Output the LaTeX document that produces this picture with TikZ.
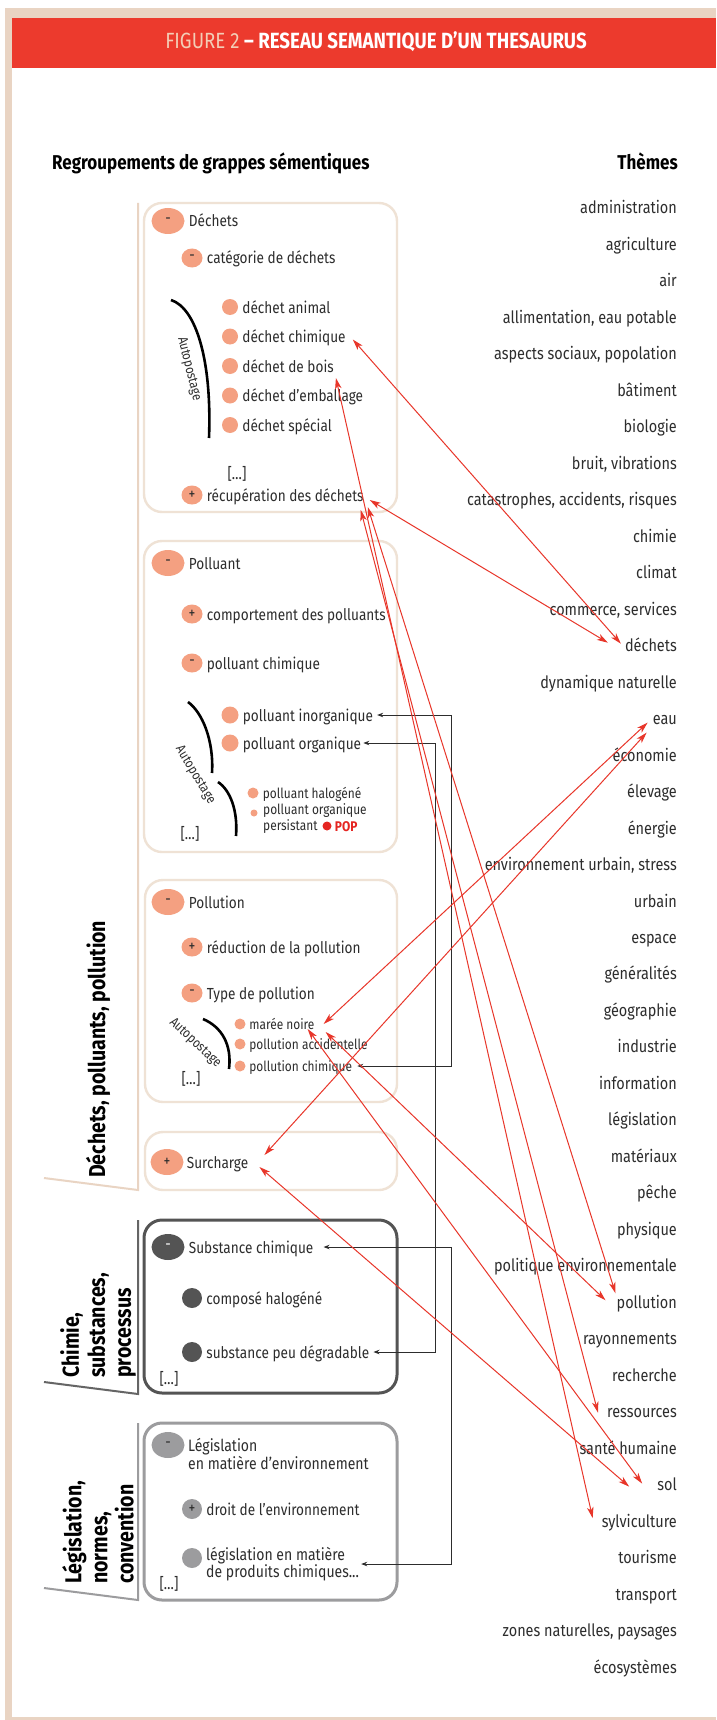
\documentclass[tikz,border=0pt]{standalone}
\usepackage{fontspec}
\setmainfont[FakeStretch=0.85]{Fira Sans}
\usepackage{tikz}
\usetikzlibrary{arrows.meta,positioning,shapes.geometric,calc}

\definecolor{salmon}{HTML}{F4A081}
\definecolor{framebeige}{HTML}{E9D4C3}
\definecolor{boxbeige}{HTML}{EFE2D5}
\definecolor{headred}{HTML}{EC3A2D}
\definecolor{figbeige}{HTML}{F3CDB6}
\definecolor{darkbul}{HTML}{545454}
\definecolor{graybul}{HTML}{9C9C9E}
\definecolor{arrred}{HTML}{E8362A}
\definecolor{popred}{HTML}{E52521}
\definecolor{txt}{HTML}{2D2D2D}

\tikzset{
  every node/.style={text=txt},
  ttl/.style={inner sep=0pt,text height=15pt,text depth=0pt,text=white,font=\bfseries\fontsize{22}{26}\selectfont},
  hdr/.style={inner sep=0pt,text height=14pt,text depth=0pt,text=black,font=\bfseries\fontsize{20}{24}\selectfont},
  theme/.style={anchor=east,inner sep=0pt,text height=12pt,text depth=0pt,font=\fontsize{17}{20}\selectfont},
  lbl/.style={inner sep=0pt,text height=12pt,text depth=0pt,font=\fontsize{16}{19}\selectfont},
  lbltwo/.style={inner sep=0pt,align=left,font=\fontsize{16.5}{15.5}\selectfont},
  smlbl/.style={inner sep=0pt,text height=10pt,text depth=0pt,font=\fontsize{14}{16}\selectfont},
  smtwo/.style={inner sep=0pt,align=left,font=\fontsize{14}{16}\selectfont},
  autolbl/.style={inner sep=0pt,font=\fontsize{13.5}{15}\selectfont},
  grplbl/.style={inner sep=0pt,rotate=90,text=black,font=\bfseries\fontsize{23}{26}\selectfont},
  bigbul/.style={ellipse,fill=salmon,minimum width=33pt,minimum height=26pt,inner sep=0pt,font=\fontsize{16}{16}\selectfont},
  smbul/.style={ellipse,fill=salmon,minimum width=21pt,minimum height=19pt,inner sep=0pt,font=\fontsize{16}{16}\selectfont},
  bdot/.style={circle,fill=salmon,minimum size=16pt,inner sep=0pt},
  tdot/.style={circle,fill=salmon,minimum size=11pt,inner sep=0pt},
  beigebox/.style={draw=boxbeige,line width=2.4pt,rounded corners=18pt},
  darkbox/.style={draw=darkbul,line width=3pt,rounded corners=18pt},
  graybox/.style={draw=graybul,line width=3pt,rounded corners=18pt},
  autoarc/.style={draw=black,line width=2.6pt},
  redarr/.style={draw=arrred,line width=1pt,>={Stealth[length=11pt,width=6.5pt,inset=3pt]},<->},
  blkarr/.style={draw=txt,line width=0.9pt,>={Stealth[length=6pt,width=4.5pt]},<->}
}

\begin{document}
\begin{tikzpicture}[x=1pt,y=-1pt]
\useasboundingbox (0,0) rectangle (716,1720);
% frame and title band
\fill[framebeige] (5,8) rectangle (716,1720);
\fill[white] (12,18) rectangle (716,1717);
\fill[headred] (12,18) rectangle (716,68);
\node[ttl] (ttl) at (376,41) {{\mdseries\color{figbeige}FIGURE 2} – RESEAU SEMANTIQUE D’UN THESAURUS};

\node[hdr,anchor=west] (hgrp) at (52,163) {Regroupements de grappes sémentiques};
\node[hdr,anchor=east] (hthm) at (678,163) {Thèmes};

% themes, right column
\foreach \k/\t [count=\i from 0] in {adm/administration, agri/agriculture, air/air,
    alim/{allimentation, eau potable}, asp/{aspects sociaux, popolation}, bat/bâtiment,
    bio/biologie, bruit/{bruit, vibrations}, cata/{catastrophes, accidents, risques\ },
    chim/chimie, clim/climat, comm/{commerce, services}, dech/déchets,
    dyn/dynamique naturelle, eau/eau, eco/économie, elev/élevage, ener/énergie,
    env/{environnement urbain, stress}, urb/urbain, esp/espace, gen/généralités,
    geo/géographie, ind/industrie, info/information, leg/législation, mat/matériaux,
    pech/pêche, phys/physique, polit/politique environnementale, poll/pollution,
    ray/rayonnements, rech/recherche, ress/ressources, sante/santé humaine, sol/sol,
    sylv/sylviculture, tour/tourisme, trans/transport, zon/{zones naturelles, paysages},
    ecos/écosystèmes}
  \node[theme] (t-\k) at (677,208+36.475*\i) {\t};

% group brackets and labels
\draw[draw=framebeige,line width=2pt] (44,1178) -- (138,1190) -- (138,203);
\draw[draw=darkbul!90,line width=2pt] (44,1382) -- (138,1394) -- (138,1220);
\draw[draw=graybul,line width=2pt] (44,1588) -- (138,1600) -- (138,1423);
\node[grplbl,anchor=base west] (g-dech) at (105,1178) {Déchets, polluants, pollution};
\node[grplbl,align=left,anchor=north west] (g-chim) at (60,1378) {Chimie,\\substances,\\processus};
\node[grplbl,align=left,anchor=north west] (g-leg) at (62,1584) {Législation,\\normes,\\convention};

% box 1: dechets
\draw[beigebox] (144,203) rectangle (397,512);
\node[bigbul] (dech-b) at (168,221) {-};
\node[lbl,right=4pt of dech-b] (dech) {Déchets};
\node[smbul] (cat-b) at (192,258) {-};
\node[lbl,right=4pt of cat-b] (cat) {catégorie de déchets};
\draw[autoarc] (171,300) .. controls (196,308) and (212,360) .. (209,438);
\node[autolbl,rotate=-76] (auto1) at (189,369) {Autopostage};
\foreach \k/\t [count=\i from 0] in {danim/déchet animal, dchim/déchet chimique,
    dbois/déchet de bois, demb/déchet d’emballage, dspec/déchet spécial} {
  \node[bdot] (\k-b) at (230,307+29.5*\i) {};
  \node[lbl,right=4pt of \k-b] (\k) {\t};
}
\node[lbl] (etc1) at (237,473) {[…]};
\node[smbul] (recup-b) at (192,495) {+};
\node[lbl,right=4pt of recup-b] (recup) {récupération des déchets};

% box 2: polluant
\draw[beigebox] (144,541) rectangle (397,852);
\node[bigbul] (pollu-b) at (168,563) {-};
\node[lbl,right=4pt of pollu-b] (pollu) {Polluant};
\node[smbul] (comp-b) at (192,614) {+};
\node[lbl,right=4pt of comp-b] (comp) {comportement des polluants};
\node[smbul] (pchq-b) at (192,663) {-};
\node[lbl,right=4pt of pchq-b] (pchq) {polluant chimique};
\draw[autoarc] (188,702) .. controls (202,712) and (214,740) .. (212,773);
\node[bdot,minimum size=17pt] (pinorg-b) at (230,715) {};
\node[lbl,right=4pt of pinorg-b] (pinorg) {polluant inorganique};
\node[bdot,minimum size=17pt] (porg-b) at (230,743) {};
\node[lbl,right=4pt of porg-b] (porg) {polluant organique};
\node[autolbl,rotate=-59] (auto2) at (195,775) {Autopostage};
\draw[autoarc] (218,782) .. controls (230,790) and (238,810) .. (236,836);
\node[tdot] (phal-b) at (253,793) {};
\node[smlbl,right=4pt of phal-b] (phal) {polluant halogéné};
\node[tdot,minimum size=7pt] (ppers-b) at (254,813) {};
\node[smtwo,anchor=west] (ppers) at (263,819) {polluant organique\\persistant};
\node[circle,fill=popred,minimum size=9pt,inner sep=0pt] (pop-b) at (327,826) {};
\node[smlbl,right=3pt of pop-b,text=popred,font=\bfseries\fontsize{14}{16}\selectfont] (pop) {POP};
\node[lbl] (etc2) at (190,833) {[…]};

% box 3: pollution
\draw[beigebox] (145,880) rectangle (397,1102);
\node[bigbul] (pollt-b) at (168,902) {-};
\node[lbl,right=4pt of pollt-b] (pollt) {Pollution};
\node[smbul] (redu-b) at (192,947) {+};
\node[lbl,right=4pt of redu-b] (redu) {réduction de la pollution};
\node[smbul] (type-b) at (192,993) {-};
\node[lbl,right=4pt of type-b] (type) {Type de pollution};
\draw[autoarc] (203,1019) .. controls (222,1027) and (232,1045) .. (229,1069);
\node[autolbl,rotate=-43] (auto3) at (195,1043) {Autopostage};
\node[tdot] (maree-b) at (240,1024) {};
\node[smlbl,right=3.5pt of maree-b] (maree) {marée noire};
\node[tdot] (pacc-b) at (240,1044) {};
\node[smlbl,right=3.5pt of pacc-b] (pacc) {pollution accidentelle};
\node[tdot] (pchim-b) at (240,1066) {};
\node[smlbl,right=3.5pt of pchim-b] (pchim) {pollution chimique};
\node[lbl] (etc3) at (191,1078) {[…]};

% box 4: surcharge
\draw[beigebox] (145,1132) rectangle (397,1190);
\node[bigbul] (surch-b) at (167,1162) {+};
\node[lbl,right=3pt of surch-b] (surch) {Surcharge};

% box 5: substance chimique
\draw[darkbox] (144,1220) rectangle (397,1393);
\node[bigbul,fill=darkbul,text=white] (subst-b) at (168,1247) {-};
\node[lbl,right=4pt of subst-b] (subst) {Substance chimique};
\node[bdot,fill=darkbul,minimum size=20pt] (comph-b) at (192,1298) {};
\node[lbl,right=4pt of comph-b] (comph) {composé halogéné};
\node[bdot,fill=darkbul,minimum size=20pt] (speu-b) at (192,1352) {};
\node[lbl,right=4pt of speu-b] (speu) {substance peu dégradable};
\node[lbl] (etc5) at (169,1378) {[…]};

% box 6: legislation
\draw[graybox] (144,1423) rectangle (397,1600);
\node[bigbul,fill=graybul] (legenv-b) at (168,1445) {-};
\node[lbltwo,anchor=west] (legenv) at (188,1454) {Législation\\en matière d’environnement};
\node[smbul,fill=graybul,minimum width=20pt,minimum height=20pt] (droit-b) at (192,1509) {+};
\node[lbl,right=4pt of droit-b] (droit) {droit de l’environnement};
\node[bdot,fill=graybul,minimum size=20pt] (legpc-b) at (192,1558) {};
\node[lbltwo,anchor=west] (legpc) at (206,1564) {législation en matière\\de produits chimiques...};
\node[lbl] (etc6) at (169,1583) {[…]};

% black links between clusters
\coordinate (railA) at (451,0);
\coordinate (railB) at (435,0);
\draw[blkarr] ([xshift=4pt]pinorg.east) -- (pinorg.east -| railA) |- ([xshift=5pt]pchim.east);
\draw[blkarr] ([xshift=2pt]porg.east) -- (porg.east -| railB) |- ([xshift=4pt]speu.east);
\draw[blkarr] ([xshift=10pt]subst.east) -- (subst.east -| railA) |- ([xshift=2pt]legpc.east);

% red links to themes
\draw[redarr] ([xshift=7pt,yshift=-3pt]dchim.east) -- ([xshift=-4pt,yshift=2pt]t-dech.west);
\draw[redarr] ([xshift=6pt,yshift=-5pt]recup.east) -- ([xshift=-17pt,yshift=3pt]t-dech.west);
\draw[redarr] ([xshift=2pt,yshift=-12pt]dbois.east) -- ([xshift=-9pt,yshift=3pt]t-sylv.west);
\draw[redarr] ([xshift=4pt,yshift=-12pt]recup.east) -- ([xshift=-1pt,yshift=9pt]t-poll.west);
\draw[redarr] ([xshift=-3pt,yshift=-15pt]recup.east) -- ([xshift=-9pt,yshift=-1pt]t-ress.west);
\draw[redarr] ([xshift=9pt]maree.east) -- ([xshift=-5pt,yshift=-4pt]t-eau.west);
\draw[redarr] ([xshift=16pt,yshift=7pt]surch.east) -- ([xshift=-6pt,yshift=-14pt]t-eau.west);
\draw[redarr] ([xshift=11pt,yshift=-8pt]maree.east) -- ([xshift=-11pt,yshift=2pt]t-poll.west);
\draw[redarr] ([xshift=-7pt,yshift=-5pt]maree.east) -- ([xshift=-15pt,yshift=1pt]t-sol.west);
\draw[redarr] ([xshift=11pt,yshift=-5pt]surch.east) -- ([xshift=-28pt,yshift=-2pt]t-sol.west);
\end{tikzpicture}
\end{document}
